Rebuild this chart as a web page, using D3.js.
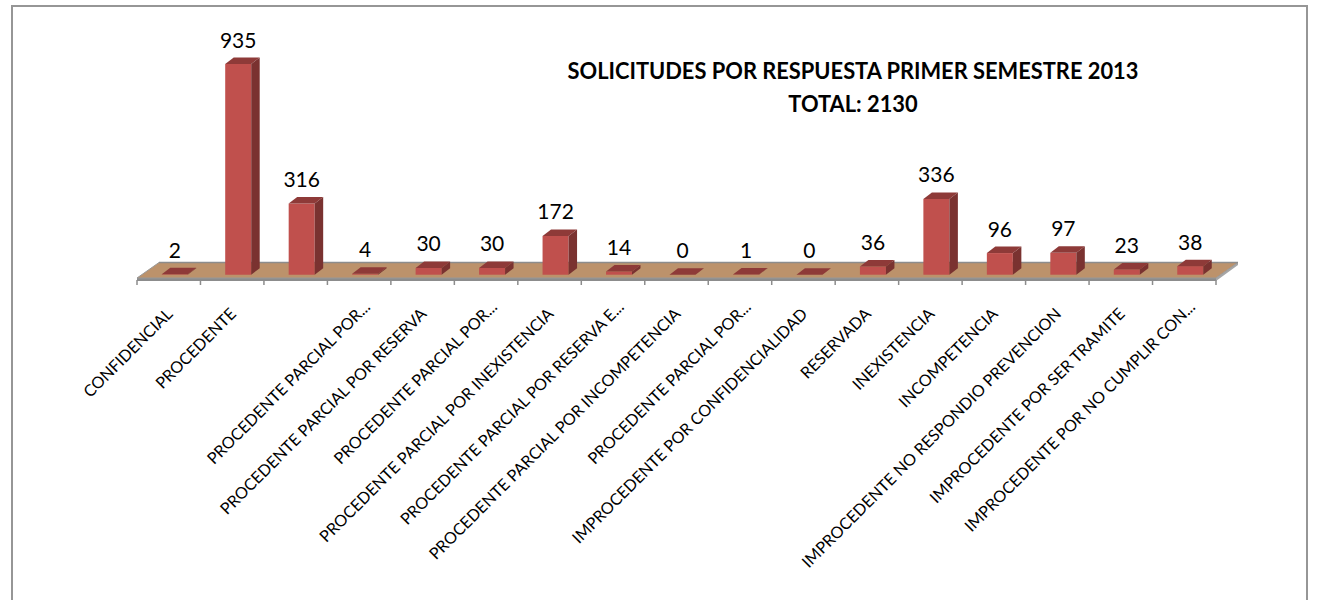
<!DOCTYPE html>
<html><head><meta charset="utf-8">
<script src="https://cdn.jsdelivr.net/npm/d3@7"></script>
<style>html,body{margin:0;padding:0;background:#fff}svg{display:block}text{font-family:Lato,"Open Sans",sans-serif}</style>
</head><body><svg id="c" width="1320" height="600"></svg>
<script>
const values = [2,935,316,4,30,30,172,14,0,1,0,36,336,96,97,23,38];
const labels = ["CONFIDENCIAL","PROCEDENTE","","PROCEDENTE PARCIAL POR...","PROCEDENTE PARCIAL POR RESERVA","PROCEDENTE PARCIAL POR...","PROCEDENTE PARCIAL POR INEXISTENCIA","PROCEDENTE PARCIAL POR RESERVA E...","PROCEDENTE PARCIAL POR INCOMPETENCIA","PROCEDENTE PARCIAL POR...","IMPROCEDENTE POR CONFIDENCIALIDAD","RESERVADA","INEXISTENCIA","INCOMPETENCIA","IMPROCEDENTE NO RESPONDIO PREVENCION","IMPROCEDENTE POR SER TRAMITE","IMPROCEDENTE POR NO CUMPLIR CON..."];
const titleLines = ["SOLICITUDES POR RESPUESTA PRIMER SEMESTRE 2013","TOTAL: 2130"];

const svg = d3.select("#c");
const ids = values.map((_,i)=>i);
const x = d3.scaleBand().domain(ids).range([137,1216]).padding(0);
const y = d3.scaleLinear().domain([0,935]).range([274.7,64]);
const barW = 26, dx = 8.5, dy = 6.5, shift = 6;

svg.append("rect").attr("x",12).attr("y",6).attr("width",1295).attr("height",640)
  .attr("fill","#fff").attr("stroke","#969696").attr("stroke-width",2);

// floor
const fl = 137, fr = 1216, fy = 278, bdx = 22, bdy = 15.5;
svg.append("path").attr("d",`M${fl},${fy}L${fr},${fy}L${fr},${fy+3}L${fl},${fy+3}Z`).attr("fill","#8c8c8c");
svg.append("path").attr("d",`M${fr},${fy}L${fr+bdx},${fy-bdy}L${fr+bdx},${fy-bdy+2.5}L${fr},${fy+3}Z`).attr("fill","#a6a6a6");
svg.append("path").attr("d",`M${fl},${fy}L${fl+bdx},${fy-bdy}L${fr+bdx},${fy-bdy}L${fr},${fy}Z`)
  .attr("fill","#bc926b").attr("stroke","#999").attr("stroke-width",1);
svg.append("path").attr("d",`M${fl+bdx},${fy-bdy}L${fr+bdx},${fy-bdy}`).attr("stroke","#8c8c8c").attr("stroke-width",1.5).attr("fill","none");

// axis ticks
const edge = d3.scaleLinear().domain([0,values.length]).range([137,1216]);
svg.append("g").selectAll("line").data(d3.range(values.length+1)).join("line")
  .attr("x1",d=>edge(d)).attr("x2",d=>edge(d)).attr("y1",fy+2).attr("y2",fy+7)
  .attr("stroke","#8c8c8c").attr("stroke-width",1.5);

// bars
const g = svg.append("g").selectAll("g").data(values).join("g");
const L = (d,i)=>x(i)+x.bandwidth()/2+shift-barW/2;
g.append("path").attr("fill","#c0504d").attr("d",(d,i)=>{const l=L(d,i),t=y(d),b=y(0);return `M${l},${t}H${l+barW}V${b}H${l}Z`;});
g.append("path").attr("fill","#8e3a38").attr("d",(d,i)=>{const l=L(d,i),t=y(d);return `M${l},${t}L${l+dx},${t-dy}H${l+barW+dx}L${l+barW},${t}Z`;});
g.append("path").attr("fill","#7a3230").attr("d",(d,i)=>{const l=L(d,i),t=y(d),b=y(0);return `M${l+barW},${t}L${l+barW+dx},${t-dy}V${b-dy}L${l+barW},${b}Z`;});

// data labels
g.append("text").attr("x",(d,i)=>L(d,i)+barW/2).attr("y",d=>y(d)-dy-10)
  .attr("text-anchor","middle").attr("font-size",21).attr("fill","#000").text(d=>d);

// category labels (Excel pushes truncated labels further along the text direction)
const extra = d => d.endsWith("...") ? 7 : 0;
svg.append("g").selectAll("text").data(labels).join("text")
  .attr("transform",(d,i)=>`translate(${x(i)+x.bandwidth()/2+5+extra(d)},${315-extra(d)}) rotate(-45)`)
  .attr("text-anchor","end").attr("font-size",16.2).attr("fill","#000").text(d=>d);

// title
svg.append("g").selectAll("text").data(titleLines).join("text")
  .attr("x",853).attr("y",(d,i)=>79+i*33).attr("text-anchor","middle")
  .attr("font-size",21.85).attr("font-weight",700).attr("fill","#000").text(d=>d);
</script></body></html>
